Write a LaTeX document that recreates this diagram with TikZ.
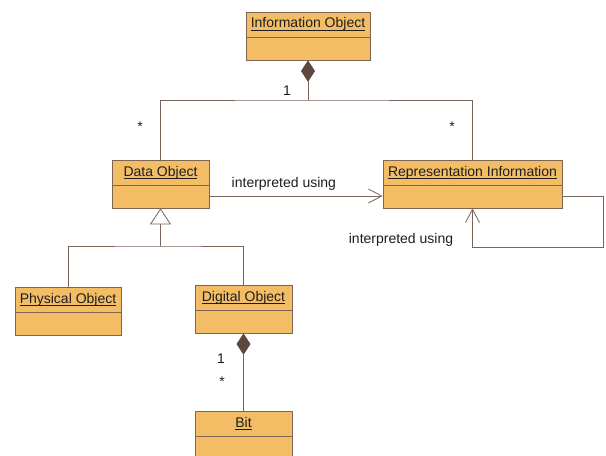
\documentclass[tikz,border=0pt]{standalone}
\usepackage{fontspec}
\setmainfont{Liberation Sans}
\usetikzlibrary{arrows.meta,calc}
\definecolor{classfill}{HTML}{F3BD66}
\definecolor{classline}{HTML}{7F6553}
\definecolor{linkbrown}{HTML}{7A655A}
\definecolor{diamondbrown}{HTML}{5C483D}
\definecolor{labeltext}{HTML}{1E1E1E}
% class name, underlined right under the baseline
\newcommand{\classname}[1]{\underline{\smash{#1}}}
\tikzset{
  classbox/.style={draw=classline, fill=classfill, semithick, inner xsep=0pt, inner ysep=0pt,
    minimum height=36pt, text height=12pt, text depth=24pt, text=labeltext,
    font=\fontsize{10.5}{12}\selectfont,
    path picture={\draw[classline, semithick]
      ([yshift=-18.75pt]path picture bounding box.north west) --
      ([yshift=-18.75pt]path picture bounding box.north east);}},
  link/.style={draw=linkbrown, semithick},
  compose/.style={link, {Diamond[length=16pt, width=10.5pt, fill=diamondbrown, color=diamondbrown]}-},
  inherit/.style={link, -{Triangle[open, length=12pt, width=15.75pt, fill=white]}},
  navarrow/.style={link, -{Straight Barb[length=10pt, width=10.5pt]}},
  mult/.style={font=\fontsize{10.5}{12}\selectfont, text=labeltext, inner sep=1pt}
}

\begin{document}
\begin{tikzpicture}[x=0.75pt, y=-0.75pt]
  \clip (0,0) rectangle (606,456);
  \fill[white] (0,0) rectangle (606,456);

  % classes
  \node[classbox, minimum width=93pt] (info) at (308,36) {\classname{Information Object}};
  \node[classbox, minimum width=72.75pt] (data) at (160.5,184) {\classname{Data Object}};
  \node[classbox, minimum width=134.25pt] (rep) at (472.5,184) {\classname{Representation Information}};
  \node[classbox, minimum width=79.5pt] (phys) at (68,311.5) {\classname{Physical Object}};
  \node[classbox, minimum width=72.75pt] (digital) at (243.5,309) {\classname{Digital Object}};
  \node[classbox, minimum width=72.75pt] (bit) at (243.5,435) {\classname{Bit}};

  % composition of the information object
  \coordinate (infobus) at (308,100);
  \draw[compose] (info.south) -- (infobus);
  \draw[link] (data.north) |- (infobus) -| (rep.north);
  \node[mult] (infoone) at (287,91) {1};
  \node[mult] (datamany) at (140,127) {*};
  \node[mult] (repmany) at (452,127) {*};

  % generalisation
  \coordinate (genbus) at (160.5,246);
  \draw[inherit] (genbus) -- (data.south);
  \draw[link] (phys.north) |- (genbus) -| (digital.north);

  % interpreted using
  \draw[navarrow] ([yshift=-9pt]data.east) -- node[mult, above=3pt, pos=0.43] (interp) {interpreted using} ([yshift=-9pt]rep.west);
  \draw[navarrow] ([yshift=-9pt]rep.east) -- ++(41,0) |- ($(rep.south)+(0,39)$) -- (rep.south);
  \node[mult] (selfinterp) at (401,240) {interpreted using};

  % digital object made of bits
  \draw[compose] (digital.south) -- (bit.north);
  \node[mult] (bitone) at (221,359) {1};
  \node[mult] (bitmany) at (222,382) {*};
\end{tikzpicture}
\end{document}
